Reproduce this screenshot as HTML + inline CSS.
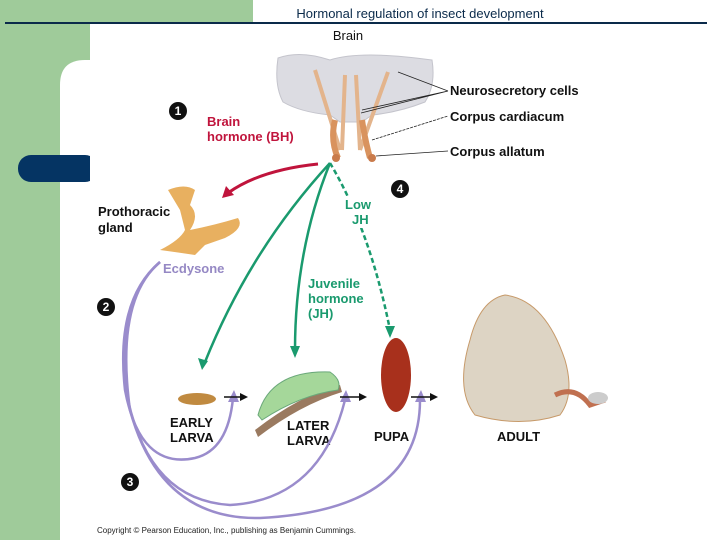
<!DOCTYPE html>
<html><head><style>
body{margin:0;width:720px;height:540px;overflow:hidden;background:#fff;font-family:"Liberation Sans",sans-serif;}
</style></head><body>
<svg width="720" height="540" viewBox="0 0 720 540" xmlns="http://www.w3.org/2000/svg" font-family="Liberation Sans, sans-serif">
<rect x="0" y="0" width="720" height="540" fill="#fff"/>
<rect x="0" y="0" width="90" height="540" fill="#9fcb9a"/>
<rect x="0" y="0" width="253" height="23" fill="#9fcb9a"/>
<path d="M60 540 V85 Q60 60 85 60 H90 V540 Z" fill="#fff"/>
<rect x="18" y="155" width="80" height="27" rx="13" fill="#053463"/>
<rect x="90" y="155" width="10" height="27" fill="#fff"/>
<line x1="5" y1="23" x2="707" y2="23" stroke="#0a2a4a" stroke-width="2"/>
<text x="420" y="18" font-size="13" text-anchor="middle" fill="#0a2a4a">Hormonal regulation of insect development</text>
<text x="348" y="40" font-size="13" text-anchor="middle" fill="#111">Brain</text>
<!-- brain -->
<path d="M278 58 Q300 50 330 60 Q360 50 432 60 Q436 85 425 102 Q400 112 372 115 L362 122 L340 122 L330 115 Q300 112 283 102 Q274 85 278 58Z" fill="#dcdce2" stroke="#c4c4cc"/>
<path d="M315 70 L340 150 M360 150 L388 72 M345 75 L342 150 M356 75 L360 150" stroke="#e3b48c" stroke-width="4" fill="none"/>
<path d="M335 120 Q330 140 338 158 M362 120 Q365 140 370 158" stroke="#d9935e" stroke-width="6" fill="none"/>
<circle cx="336" cy="158" r="4" fill="#c97b4b"/><circle cx="372" cy="158" r="4" fill="#c97b4b"/>
<path d="M398 72 L448 91 M362 110 L448 91 M361 113 L448 91" stroke="#222" stroke-width="0.8"/>
<line x1="372" y1="140" x2="448" y2="116" stroke="#222" stroke-width="0.8" stroke-dasharray="3 1"/>
<line x1="376" y1="156" x2="448" y2="151" stroke="#222" stroke-width="0.8"/>
<g font-size="13" font-weight="bold" fill="#111">
<text x="450" y="95">Neurosecretory cells</text>
<text x="450" y="121">Corpus cardiacum</text>
<text x="450" y="156">Corpus allatum</text>
<text x="98" y="216">Prothoracic</text><text x="98" y="232">gland</text>
<text x="170" y="427">EARLY</text><text x="170" y="442">LARVA</text>
<text x="287" y="430">LATER</text><text x="287" y="445">LARVA</text>
<text x="374" y="441">PUPA</text>
<text x="497" y="441">ADULT</text>
</g>
<g fill="#111"><circle cx="178" cy="111" r="9"/><circle cx="106" cy="307" r="9"/><circle cx="130" cy="482" r="9"/><circle cx="400" cy="189" r="9"/></g>
<g fill="#fff" font-size="12" font-weight="bold" text-anchor="middle">
<text x="178" y="115">1</text><text x="106" y="311">2</text><text x="130" y="486">3</text><text x="400" y="193">4</text></g>
<text x="207" y="126" font-size="13" font-weight="bold" fill="#c0143c">Brain</text>
<text x="207" y="141" font-size="13" font-weight="bold" fill="#c0143c">hormone (BH)</text>
<path d="M318 164 Q260 170 228 193" stroke="#c0143c" stroke-width="3" fill="none"/>
<path d="M222 198 L226 186 L234 195Z" fill="#c0143c"/>
<!-- gland -->
<path d="M168 190 Q185 183 195 190 L190 205 Q200 215 190 230 Q215 225 238 218 Q245 228 225 238 L205 245 L195 255 Q175 252 160 250 Q180 240 185 230 L180 210 Z" fill="#e8b060"/>
<text x="163" y="273" font-size="13" font-weight="bold" fill="#9588c4">Ecdysone</text>
<!-- green -->
<g stroke="#1a9a6e" stroke-width="2.5" fill="none">
<path d="M330 163 Q250 250 205 362"/>
<path d="M330 163 Q295 250 295 350"/>
<path d="M330 163 Q370 230 390 330" stroke-dasharray="5 3"/>
</g>
<g fill="#1a9a6e"><path d="M202 370 L198 358 L208 361Z"/><path d="M295 358 L290 346 L300 346Z"/><path d="M390 338 L385 326 L395 326Z"/></g>
<rect x="343" y="196" width="36" height="32" fill="#fff"/>
<g font-size="13" font-weight="bold" fill="#1a9a6e">
<text x="345" y="209">Low</text><text x="352" y="224">JH</text>
<text x="308" y="288">Juvenile</text><text x="308" y="303">hormone</text><text x="308" y="318">(JH)</text></g>
<!-- purple -->
<g stroke="#9a8ccc" stroke-width="2.5" fill="none">
<path d="M160 262 Q115 300 125 390 Q140 470 195 458 Q228 450 233 398"/>
<path d="M160 262 Q115 300 128 400 Q150 500 230 505 Q320 500 345 400"/>
<path d="M160 262 Q115 300 130 410 Q160 520 260 518 Q420 510 420 400"/>
</g>
<g fill="#9a8ccc"><path d="M234 390 L228 402 L239 402Z"/><path d="M346 390 L340 402 L351 402Z"/><path d="M421 390 L415 402 L426 402Z"/></g>
<!-- stage arrows -->
<g stroke="#111" stroke-width="1.5"><line x1="224" y1="397" x2="243" y2="397"/><line x1="340" y1="397" x2="362" y2="397"/><line x1="411" y1="397" x2="433" y2="397"/></g>
<g fill="#111"><path d="M248 397 L240 393 L240 401Z"/><path d="M367 397 L359 393 L359 401Z"/><path d="M438 397 L430 393 L430 401Z"/></g>
<!-- creatures -->
<ellipse cx="197" cy="399" rx="19" ry="6" fill="#c08a40"/>
<path d="M255 430 Q300 395 340 385 L342 392 Q300 405 258 437Z" fill="#9a7a60"/>
<path d="M258 415 Q270 370 330 372 Q342 380 338 390 Q300 395 262 420Z" fill="#a5d79a" stroke="#6aa87a"/>
<ellipse cx="396" cy="375" rx="15" ry="37" fill="#a8301c"/>
<path d="M470 340 Q480 300 505 295 Q545 300 565 360 Q575 395 560 415 Q520 428 475 415 Q455 390 470 340Z" fill="#ddd4c4" stroke="#c79a6a"/>
<path d="M555 395 Q575 385 590 405 L605 400" stroke="#c07050" stroke-width="5" fill="none"/>
<ellipse cx="598" cy="398" rx="10" ry="6" fill="#ccc"/>
<text x="97" y="533" font-size="8" fill="#222">Copyright © Pearson Education, Inc., publishing as Benjamin Cummings.</text>
</svg>
</body></html>
